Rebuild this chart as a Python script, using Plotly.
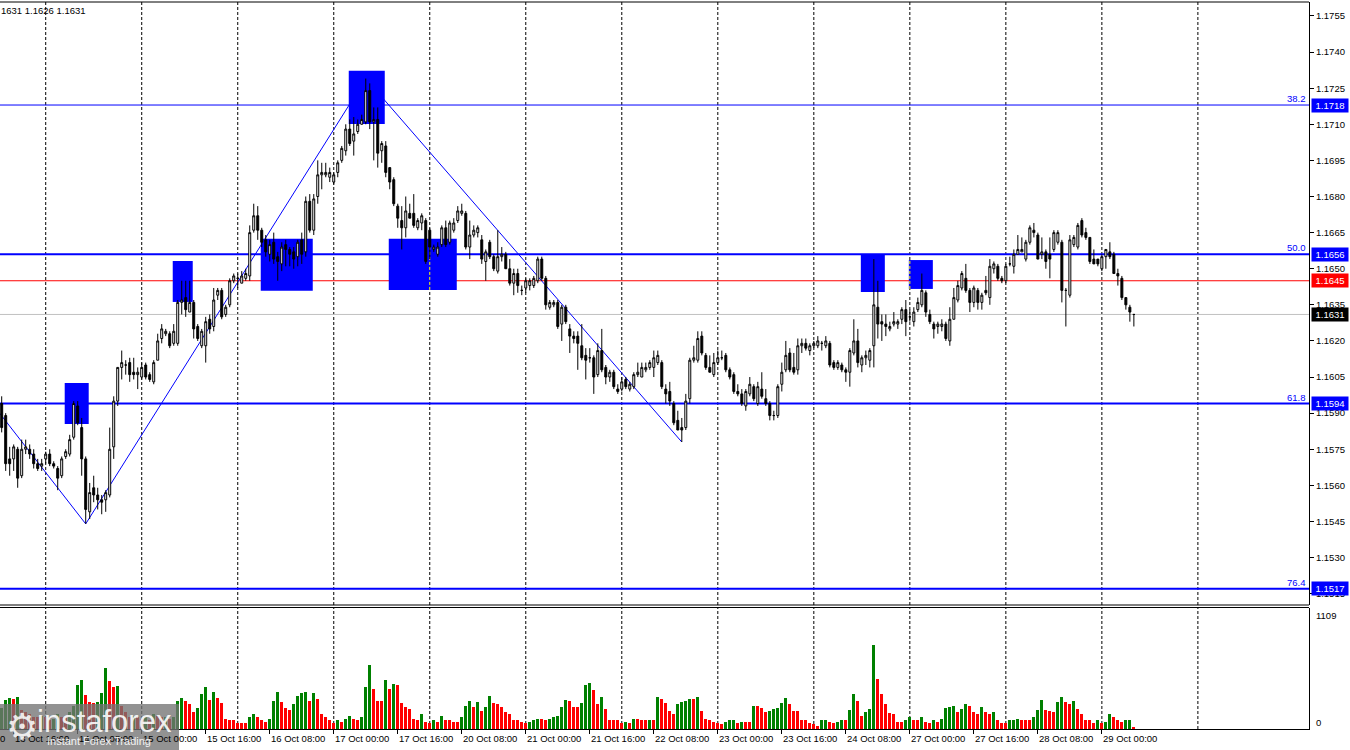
import plotly.graph_objects as go

# ---------------- data ----------------
trading_days = ["13 Oct", "14 Oct", "15 Oct", "16 Oct", "17 Oct", "20 Oct", "21 Oct",
                "22 Oct", "23 Oct", "24 Oct", "27 Oct", "28 Oct", "29 Oct", "30 Oct"]
first_bar = 13  # hours since 13 Oct 00:00 (trading hours) of first visible H1 candle

opens = [
    1.1594, 1.1589, 1.1571, 1.1571, 1.1575, 1.1564, 1.1575, 1.1575, 1.1573, 1.1569,
    1.1568, 1.1571, 1.1573, 1.1569, 1.1567, 1.1564, 1.1572, 1.1573, 1.1580, 1.1593,
    1.1584, 1.1571, 1.1549, 1.1559, 1.1556, 1.1554, 1.1554, 1.1556, 1.1576, 1.1595,
    1.1609, 1.1610, 1.1611, 1.1607, 1.1606, 1.1605, 1.1610, 1.1606, 1.1603, 1.1612,
    1.1621, 1.1623, 1.1623, 1.1619, 1.1619, 1.1636, 1.1638, 1.1632, 1.1636, 1.1626,
    1.1618, 1.1618, 1.1629, 1.1626, 1.1639, 1.1641, 1.1631, 1.1635, 1.1645, 1.1646,
    1.1644, 1.1646, 1.1647, 1.1666, 1.1672, 1.1666, 1.1662, 1.1656, 1.1661, 1.1655,
    1.1652, 1.1660, 1.1658, 1.1657, 1.1655, 1.1662, 1.1657, 1.1678, 1.1666, 1.1680,
    1.1689, 1.1689, 1.1688, 1.1686, 1.1690, 1.1695, 1.1699, 1.1708, 1.1703, 1.1707,
    1.1710, 1.1711, 1.1724, 1.1711, 1.1712, 1.1699, 1.1701, 1.1692, 1.1687, 1.1676,
    1.1670, 1.1667, 1.1673, 1.1673, 1.1667, 1.1669, 1.1670, 1.1666, 1.1658, 1.1656,
    1.1660, 1.1667, 1.1661, 1.1666, 1.1670, 1.1673, 1.1673, 1.1659, 1.1664, 1.1665,
    1.1662, 1.1653, 1.1661, 1.1655, 1.1649, 1.1655, 1.1656, 1.1650, 1.1644, 1.1648,
    1.1641, 1.1642, 1.1643, 1.1643, 1.1645, 1.1654, 1.1646, 1.1634, 1.1635, 1.1636,
    1.1627, 1.1634, 1.1625, 1.1622, 1.1622, 1.1618, 1.1614, 1.1613, 1.1613, 1.1606,
    1.1616, 1.1609, 1.1605, 1.1607, 1.1600, 1.1600, 1.1604, 1.1600, 1.1601, 1.1606,
    1.1605, 1.1608, 1.1609, 1.1609, 1.1611, 1.1611, 1.1600, 1.1599, 1.1594, 1.1587,
    1.1584, 1.1584, 1.1596, 1.1612, 1.1612, 1.1622, 1.1614, 1.1609, 1.1606, 1.1611,
    1.1613, 1.1614, 1.1608, 1.1606, 1.1599, 1.1598, 1.1593, 1.1598, 1.1601, 1.1594,
    1.1600, 1.1596, 1.1594, 1.1589, 1.1589, 1.1602, 1.1608, 1.1615, 1.1609, 1.1608,
    1.1618, 1.1619, 1.1616, 1.1618, 1.1618, 1.1619, 1.1618, 1.1619, 1.1611, 1.1609,
    1.1610, 1.1608, 1.1607, 1.1615, 1.1620, 1.1610, 1.1613, 1.1612, 1.1618, 1.1634,
    1.1628, 1.1627, 1.1625, 1.1627, 1.1627, 1.1629, 1.1633, 1.1630, 1.1628, 1.1633,
    1.1635, 1.1640, 1.1631, 1.1627, 1.1626, 1.1626, 1.1627, 1.1620, 1.1629, 1.1637,
    1.1642, 1.1646, 1.1641, 1.1636, 1.1641, 1.1636, 1.1641, 1.1638, 1.1650, 1.1651,
    1.1646, 1.1645, 1.1652, 1.1651, 1.1656, 1.1657, 1.1654, 1.1661, 1.1666, 1.1664,
    1.1656, 1.1657, 1.1656, 1.1658, 1.1661, 1.1661, 1.1641, 1.1639, 1.1660, 1.1659,
    1.1670, 1.1665, 1.1663, 1.1654, 1.1654, 1.1650, 1.1655, 1.1657, 1.1656, 1.1648,
    1.1646, 1.1638, 1.1634, 1.1631,
]
highs = [
    1.1597, 1.1590, 1.1576, 1.1577, 1.1576, 1.1579, 1.1579, 1.1577, 1.1575, 1.1571,
    1.1571, 1.1574, 1.1575, 1.1570, 1.1568, 1.1572, 1.1575, 1.1581, 1.1595, 1.1595,
    1.1588, 1.1572, 1.1561, 1.1564, 1.1559, 1.1556, 1.1558, 1.1584, 1.1597, 1.1609,
    1.1616, 1.1612, 1.1613, 1.1613, 1.1609, 1.1611, 1.1611, 1.1607, 1.1612, 1.1623,
    1.1627, 1.1625, 1.1624, 1.1627, 1.1637, 1.1645, 1.1645, 1.1645, 1.1637, 1.1627,
    1.1625, 1.1630, 1.1631, 1.1642, 1.1642, 1.1642, 1.1635, 1.1646, 1.1648, 1.1648,
    1.1649, 1.1650, 1.1668, 1.1677, 1.1676, 1.1667, 1.1664, 1.1662, 1.1665, 1.1657,
    1.1661, 1.1662, 1.1659, 1.1659, 1.1662, 1.1665, 1.1680, 1.1681, 1.1681, 1.1695,
    1.1694, 1.1694, 1.1692, 1.1690, 1.1695, 1.1701, 1.1710, 1.1712, 1.1713, 1.1712,
    1.1714, 1.1729, 1.1727, 1.1717, 1.1717, 1.1703, 1.1703, 1.1692, 1.1688, 1.1677,
    1.1676, 1.1680, 1.1677, 1.1681, 1.1671, 1.1673, 1.1671, 1.1667, 1.1660, 1.1661,
    1.1668, 1.1670, 1.1670, 1.1671, 1.1676, 1.1677, 1.1674, 1.1670, 1.1668, 1.1668,
    1.1664, 1.1658, 1.1662, 1.1656, 1.1666, 1.1659, 1.1657, 1.1654, 1.1650, 1.1650,
    1.1643, 1.1646, 1.1646, 1.1647, 1.1655, 1.1655, 1.1647, 1.1637, 1.1637, 1.1637,
    1.1635, 1.1635, 1.1627, 1.1624, 1.1624, 1.1627, 1.1617, 1.1617, 1.1614, 1.1619,
    1.1625, 1.1610, 1.1608, 1.1608, 1.1602, 1.1605, 1.1605, 1.1603, 1.1607, 1.1611,
    1.1611, 1.1611, 1.1612, 1.1616, 1.1616, 1.1612, 1.1602, 1.1603, 1.1595, 1.1591,
    1.1588, 1.1598, 1.1613, 1.1618, 1.1624, 1.1624, 1.1615, 1.1614, 1.1615, 1.1616,
    1.1616, 1.1615, 1.1609, 1.1607, 1.1602, 1.1600, 1.1600, 1.1605, 1.1602, 1.1603,
    1.1607, 1.1600, 1.1595, 1.1591, 1.1602, 1.1611, 1.1620, 1.1617, 1.1615, 1.1621,
    1.1621, 1.1621, 1.1619, 1.1620, 1.1622, 1.1620, 1.1622, 1.1620, 1.1612, 1.1612,
    1.1611, 1.1609, 1.1617, 1.1629, 1.1625, 1.1614, 1.1616, 1.1617, 1.1654, 1.1645,
    1.1631, 1.1631, 1.1628, 1.1632, 1.1629, 1.1634, 1.1637, 1.1633, 1.1634, 1.1638,
    1.1648, 1.1641, 1.1633, 1.1628, 1.1628, 1.1629, 1.1628, 1.1634, 1.1642, 1.1645,
    1.1649, 1.1652, 1.1642, 1.1643, 1.1642, 1.1640, 1.1647, 1.1654, 1.1653, 1.1652,
    1.1647, 1.1652, 1.1655, 1.1658, 1.1664, 1.1663, 1.1662, 1.1668, 1.1669, 1.1665,
    1.1663, 1.1658, 1.1663, 1.1666, 1.1666, 1.1662, 1.1642, 1.1664, 1.1664, 1.1669,
    1.1671, 1.1667, 1.1663, 1.1658, 1.1654, 1.1656, 1.1658, 1.1661, 1.1657, 1.1650,
    1.1647, 1.1638, 1.1635, 1.1631,
]
lows = [
    1.1582, 1.1566, 1.1564, 1.1566, 1.1559, 1.1563, 1.1573, 1.1571, 1.1567, 1.1566,
    1.1566, 1.1569, 1.1568, 1.1567, 1.1558, 1.1563, 1.1571, 1.1572, 1.1579, 1.1585,
    1.1564, 1.1544, 1.1546, 1.1553, 1.1550, 1.1548, 1.1549, 1.1555, 1.1571, 1.1593,
    1.1604, 1.1606, 1.1603, 1.1604, 1.1600, 1.1604, 1.1604, 1.1603, 1.1602, 1.1612,
    1.1619, 1.1622, 1.1617, 1.1618, 1.1618, 1.1631, 1.1630, 1.1632, 1.1621, 1.1620,
    1.1617, 1.1611, 1.1623, 1.1624, 1.1637, 1.1629, 1.1630, 1.1634, 1.1644, 1.1642,
    1.1644, 1.1645, 1.1645, 1.1665, 1.1662, 1.1659, 1.1655, 1.1653, 1.1652, 1.1645,
    1.1649, 1.1651, 1.1651, 1.1650, 1.1651, 1.1652, 1.1655, 1.1665, 1.1664, 1.1677,
    1.1683, 1.1688, 1.1686, 1.1685, 1.1688, 1.1694, 1.1697, 1.1701, 1.1697, 1.1706,
    1.1710, 1.1710, 1.1708, 1.1695, 1.1692, 1.1694, 1.1688, 1.1683, 1.1676, 1.1667,
    1.1658, 1.1663, 1.1671, 1.1667, 1.1666, 1.1666, 1.1652, 1.1654, 1.1657, 1.1655,
    1.1659, 1.1659, 1.1660, 1.1665, 1.1669, 1.1672, 1.1658, 1.1654, 1.1663, 1.1663,
    1.1652, 1.1645, 1.1654, 1.1649, 1.1648, 1.1653, 1.1650, 1.1643, 1.1639, 1.1640,
    1.1639, 1.1640, 1.1641, 1.1642, 1.1644, 1.1645, 1.1633, 1.1633, 1.1634, 1.1625,
    1.1620, 1.1627, 1.1615, 1.1619, 1.1608, 1.1612, 1.1604, 1.1611, 1.1598, 1.1605,
    1.1607, 1.1602, 1.1603, 1.1600, 1.1598, 1.1599, 1.1600, 1.1599, 1.1600, 1.1605,
    1.1605, 1.1607, 1.1608, 1.1605, 1.1610, 1.1600, 1.1594, 1.1593, 1.1585, 1.1583,
    1.1578, 1.1583, 1.1594, 1.1611, 1.1611, 1.1614, 1.1608, 1.1607, 1.1605, 1.1610,
    1.1612, 1.1607, 1.1604, 1.1598, 1.1597, 1.1593, 1.1591, 1.1597, 1.1595, 1.1593,
    1.1596, 1.1593, 1.1587, 1.1587, 1.1588, 1.1599, 1.1607, 1.1607, 1.1606, 1.1606,
    1.1615, 1.1616, 1.1614, 1.1617, 1.1617, 1.1616, 1.1617, 1.1609, 1.1608, 1.1608,
    1.1607, 1.1603, 1.1601, 1.1614, 1.1609, 1.1607, 1.1610, 1.1609, 1.1609, 1.1621,
    1.1620, 1.1622, 1.1624, 1.1626, 1.1625, 1.1627, 1.1622, 1.1628, 1.1626, 1.1632,
    1.1634, 1.1630, 1.1627, 1.1621, 1.1623, 1.1624, 1.1620, 1.1618, 1.1629, 1.1636,
    1.1641, 1.1640, 1.1632, 1.1634, 1.1633, 1.1633, 1.1639, 1.1635, 1.1648, 1.1645,
    1.1644, 1.1644, 1.1651, 1.1648, 1.1656, 1.1657, 1.1653, 1.1660, 1.1663, 1.1654,
    1.1654, 1.1650, 1.1646, 1.1657, 1.1660, 1.1636, 1.1626, 1.1638, 1.1659, 1.1658,
    1.1663, 1.1662, 1.1652, 1.1652, 1.1651, 1.1649, 1.1650, 1.1654, 1.1648, 1.1643,
    1.1637, 1.1633, 1.1628, 1.1626,
]
closes = [
    1.1584, 1.1569, 1.1569, 1.1576, 1.1563, 1.1575, 1.1576, 1.1573, 1.1569, 1.1567,
    1.1569, 1.1573, 1.1569, 1.1568, 1.1563, 1.1571, 1.1574, 1.1579, 1.1594, 1.1586,
    1.1571, 1.1550, 1.1557, 1.1556, 1.1554, 1.1553, 1.1557, 1.1575, 1.1595, 1.1609,
    1.1611, 1.1610, 1.1606, 1.1606, 1.1607, 1.1609, 1.1605, 1.1604, 1.1611, 1.1620,
    1.1625, 1.1624, 1.1618, 1.1624, 1.1636, 1.1637, 1.1633, 1.1636, 1.1625, 1.1621,
    1.1624, 1.1628, 1.1625, 1.1637, 1.1641, 1.1630, 1.1634, 1.1645, 1.1647, 1.1646,
    1.1647, 1.1648, 1.1665, 1.1672, 1.1666, 1.1661, 1.1657, 1.1660, 1.1654, 1.1653,
    1.1659, 1.1658, 1.1656, 1.1654, 1.1661, 1.1656, 1.1678, 1.1666, 1.1679, 1.1689,
    1.1690, 1.1690, 1.1690, 1.1689, 1.1694, 1.1700, 1.1708, 1.1702, 1.1706, 1.1710,
    1.1712, 1.1724, 1.1711, 1.1712, 1.1698, 1.1702, 1.1690, 1.1686, 1.1677, 1.1671,
    1.1667, 1.1674, 1.1671, 1.1668, 1.1670, 1.1672, 1.1653, 1.1659, 1.1659, 1.1659,
    1.1667, 1.1660, 1.1669, 1.1669, 1.1674, 1.1674, 1.1659, 1.1664, 1.1666, 1.1667,
    1.1654, 1.1657, 1.1655, 1.1650, 1.1655, 1.1656, 1.1650, 1.1644, 1.1648, 1.1643,
    1.1641, 1.1645, 1.1645, 1.1646, 1.1654, 1.1646, 1.1635, 1.1636, 1.1636, 1.1626,
    1.1634, 1.1628, 1.1622, 1.1621, 1.1619, 1.1613, 1.1612, 1.1613, 1.1605, 1.1616,
    1.1608, 1.1605, 1.1607, 1.1601, 1.1599, 1.1603, 1.1601, 1.1602, 1.1606, 1.1607,
    1.1609, 1.1609, 1.1611, 1.1613, 1.1614, 1.1601, 1.1598, 1.1595, 1.1586, 1.1583,
    1.1583, 1.1595, 1.1612, 1.1613, 1.1621, 1.1615, 1.1609, 1.1607, 1.1611, 1.1613,
    1.1613, 1.1608, 1.1605, 1.1599, 1.1598, 1.1594, 1.1599, 1.1602, 1.1596, 1.1601,
    1.1597, 1.1594, 1.1589, 1.1589, 1.1601, 1.1607, 1.1614, 1.1608, 1.1607, 1.1618,
    1.1619, 1.1617, 1.1618, 1.1619, 1.1620, 1.1619, 1.1620, 1.1610, 1.1609, 1.1611,
    1.1608, 1.1607, 1.1616, 1.1620, 1.1611, 1.1613, 1.1614, 1.1616, 1.1635, 1.1627,
    1.1627, 1.1626, 1.1626, 1.1628, 1.1628, 1.1633, 1.1628, 1.1630, 1.1632, 1.1636,
    1.1641, 1.1632, 1.1628, 1.1625, 1.1627, 1.1627, 1.1621, 1.1629, 1.1638, 1.1643,
    1.1648, 1.1641, 1.1636, 1.1642, 1.1636, 1.1639, 1.1640, 1.1651, 1.1652, 1.1646,
    1.1645, 1.1651, 1.1652, 1.1656, 1.1658, 1.1658, 1.1661, 1.1667, 1.1665, 1.1654,
    1.1657, 1.1653, 1.1654, 1.1665, 1.1665, 1.1641, 1.1641, 1.1662, 1.1663, 1.1668,
    1.1664, 1.1663, 1.1653, 1.1652, 1.1652, 1.1655, 1.1658, 1.1655, 1.1648, 1.1647,
    1.1638, 1.1635, 1.1632, 1.1631,
]
volumes = [
    205, 279, 298, 288, 307,
    186, 167, 140, 121, 112, 130, 112, 93, 102, 149, 121, 112, 167, 223,
    419, 465, 326, 260, 251, 260, 344, 577, 456, 400, 409, 223,
    167, 112, 130, 112, 102, 112, 93, 149, 130, 112, 121, 102, 112,
    270, 298, 270, 242, 167, 205, 335, 400, 279, 353, 298, 251,
    102, 84, 84, 65, 65, 65, 121, 140, 112, 93, 74, 102,
    270, 353, 260, 205, 186, 233, 316, 344, 353, 270, 344, 288,
    149, 121, 84, 65, 93, 74, 102, 130, 102, 93, 112,
    400, 605, 381, 270, 270, 465, 381, 428, 419, 251, 214, 195,
    102, 84, 149, 74, 65, 84, 74, 130, 93, 93, 74, 74, 112,
    223, 270, 214, 260, 177, 214, 316, 251, 242, 214, 167, 140, 93, 84,
    74, 65, 74, 93, 102, 102, 93, 102, 112, 130,
    214, 279, 270, 214, 214, 251, 419, 437, 372, 242, 307, 195,
    93, 93, 93, 65, 74, 56, 102, 102, 93, 84, 93, 93,
    307, 288, 251, 177, 149, 242, 260, 270, 288, 288, 307,
    177, 102, 93, 74, 56, 47, 74, 84, 93, 65, 74, 74, 74,
    223, 223, 205, 167, 177, 195, 205, 251, 298, 242, 177, 177,
    84, 84, 56, 47, 37, 84, 93, 74, 65, 74, 84, 84,
    186, 335, 270, 130, 167, 195, 791, 474, 335, 242, 158, 149,
    74, 74, 93, 121, 93, 93, 112, 74, 65, 84, 74, 102,
    205, 214, 223, 167, 195, 233, 223, 167, 140, 214, 167, 140, 167,
    84, 65, 65, 84, 93, 102, 93, 84, 84, 112, 186,
    279, 186, 177, 167, 260, 307, 260, 242, 270, 195, 140, 84,
    84, 56, 84, 65, 74, 149, 112, 84, 74, 84, 93, 23,
]

fib_names = ["38.2", "50.0", "61.8", "76.4"]
fib_prices = [1.1718, 1.1656, 1.1594, 1.1517]
ask_price = 1.1645
bid_price = 1.1631
price_ticks = [1.1515, 1.1530, 1.1545, 1.1560, 1.1575, 1.1590, 1.1605, 1.1620, 1.1635,
               1.1650, 1.1665, 1.1680, 1.1695, 1.1710, 1.1725, 1.1740, 1.1755]
volume_max_label = 1109

zigzag_bars = [12, 34, 104, 183]
zigzag_prices = [1.1591, 1.1544, 1.1729, 1.1578]

zone_start = [28.75, 55.75, 77.75, 99.75, 109.75, 227.75, 239.75]
zone_end = [34.75, 60.75, 90.75, 108.75, 126.75, 233.75, 245.75]
zone_top = [1.16025, 1.16532, 1.16624, 1.17322, 1.16624, 1.16557, 1.16536]
zone_bottom = [1.15855, 1.16362, 1.16408, 1.17101, 1.16412, 1.16403, 1.16416]

header_text = "1631 1.1626 1.1631"

# ---------------- layout geometry ----------------
W, H = 1350, 750
PLOT_W = 1309
TOP, BOTTOM = 2, 729
PH = BOTTOM - TOP
BAR_PX = 4.0006
X_MIN = 12.575
X_MAX = X_MIN + PLOT_W / BAR_PX
Y_MIN, Y_MAX = 1.15103, 1.17608
VOL_RANGE_TOP = 1132


def py(pix):
    return (BOTTOM - pix) / PH


def pxp(pix):
    return pix / PLOT_W


def kx(k):
    return (k - X_MIN) / (X_MAX - X_MIN)


bars = list(range(first_bar, first_bar + len(closes)))
vol_colors = []
for j, v in enumerate(volumes):
    vol_colors.append("#008000" if (j == 0 or v > volumes[j - 1]) else "#FF0000")

last_bar = bars[-1]
label_bars = [k for k in range(0, last_bar + 1, 16)]
day_bars = [24 * d for d in range(1, len(trading_days))]

FONT = "Liberation Sans, Arial, sans-serif"
FS = 9.5

fig = go.Figure()
fig.add_trace(go.Candlestick(
    x=bars, open=opens, high=highs, low=lows, close=closes,
    increasing=dict(line=dict(color="black", width=1), fillcolor="white"),
    decreasing=dict(line=dict(color="black", width=1), fillcolor="black"),
    whiskerwidth=0, xaxis="x", yaxis="y", hoverinfo="skip", showlegend=False,
))
fig.add_trace(go.Bar(
    x=bars, y=volumes, marker=dict(color=vol_colors, line=dict(width=0)),
    width=0.72, xaxis="x2", yaxis="y2", hoverinfo="skip", showlegend=False,
))

shapes = []
# dashed day separators
for k in day_bars:
    for xr, yr in (("x", "y domain"), ("x2", "y2 domain")):
        shapes.append(dict(type="line", xref=xr, yref=yr, x0=k, x1=k, y0=0, y1=1,
                           line=dict(color="black", width=1, dash="3px,2px"), layer="below"))
# bid / ask lines
shapes.append(dict(type="line", xref="x domain", yref="y", x0=0, x1=1, y0=bid_price, y1=bid_price,
                   line=dict(color="#C0C0C0", width=1), layer="below"))
shapes.append(dict(type="line", xref="x domain", yref="y", x0=0, x1=1, y0=ask_price, y1=ask_price,
                   line=dict(color="#FF0000", width=1), layer="below"))
# fibonacci levels
for name, p in zip(fib_names, fib_prices):
    shapes.append(dict(type="line", xref="x domain", yref="y", x0=0, x1=1, y0=p, y1=p,
                       line=dict(color="#0000FF", width=1 if name == "38.2" else 2), layer="below"))
# zigzag
path = "M " + " L ".join(f"{k},{p}" for k, p in zip(zigzag_bars, zigzag_prices))
shapes.append(dict(type="path", xref="x", yref="y", path=path,
                   line=dict(color="#0000FF", width=1), layer="below"))
# zones
for x0, x1, t, b in zip(zone_start, zone_end, zone_top, zone_bottom):
    shapes.append(dict(type="rect", xref="x", yref="y", x0=x0, x1=x1, y0=b, y1=t,
                       fillcolor="#0000FF", line=dict(width=0), layer="below"))
    for k in day_bars:
        if x0 < k < x1:
            shapes.append(dict(type="line", xref="x", yref="y", x0=k, x1=k, y0=b, y1=t,
                               line=dict(color="#FFFF00", width=1, dash="3px,2px"), layer="below"))
# panel borders
shapes.append(dict(type="line", xref="paper", yref="paper", x0=0, x1=1, y0=1, y1=1,
                   line=dict(color="black", width=1)))
shapes.append(dict(type="line", xref="paper", yref="paper", x0=0, x1=1, y0=py(605), y1=py(605),
                   line=dict(color="black", width=1)))
shapes.append(dict(type="line", xref="paper", yref="paper", x0=0, x1=1, y0=py(607.5), y1=py(607.5),
                   line=dict(color="black", width=1)))
# watermark box
shapes.append(dict(type="rect", xref="paper", yref="paper", x0=0, x1=pxp(179), y0=py(750), y1=py(704),
                   fillcolor="rgba(115,115,115,0.78)", line=dict(width=0)))

ann = []
# time labels
for k in label_bars:
    txt = f"{trading_days[k // 24]} {k % 24:02d}:00"
    ann.append(dict(x=kx(k), xref="paper", y=py(738.5), yref="paper", text=txt, showarrow=False,
                    xanchor="left", yanchor="middle", xshift=-1,
                    font=dict(family=FONT, size=FS, color="black")))
# fib labels and price boxes
for name, p in zip(fib_names, fib_prices):
    ann.append(dict(x=pxp(1307.5), xref="paper", y=p, yref="y", text=name, showarrow=False,
                    xanchor="right", yanchor="bottom", yshift=-1,
                    font=dict(family=FONT, size=FS, color="#0000FF")))
    ann.append(dict(x=pxp(1311), xref="paper", y=p, yref="y", text=f"{p:.4f}", showarrow=False,
                    xanchor="left", yanchor="middle", bgcolor="#0000FF", width=34, height=11,
                    borderpad=1, font=dict(family=FONT, size=FS, color="white")))
ann.append(dict(x=pxp(1311), xref="paper", y=ask_price, yref="y", text=f"{ask_price:.4f}",
                showarrow=False, xanchor="left", yanchor="middle", bgcolor="#FF0000", width=34,
                height=11, borderpad=1, font=dict(family=FONT, size=FS, color="white")))
ann.append(dict(x=pxp(1311), xref="paper", y=bid_price, yref="y", text=f"{bid_price:.4f}",
                showarrow=False, xanchor="left", yanchor="middle", bgcolor="#000000", width=34,
                height=11, borderpad=1, font=dict(family=FONT, size=FS, color="white")))
# volume scale labels
ann.append(dict(x=pxp(1314), xref="paper", y=py(615), yref="paper", text=str(volume_max_label),
                showarrow=False, xanchor="left", yanchor="middle",
                font=dict(family=FONT, size=FS, color="black")))
ann.append(dict(x=pxp(1314), xref="paper", y=py(722), yref="paper", text="0",
                showarrow=False, xanchor="left", yanchor="middle",
                font=dict(family=FONT, size=FS, color="black")))
# header
ann.append(dict(x=0, xref="paper", y=py(10), yref="paper", text=header_text, showarrow=False,
                xanchor="left", yanchor="middle", xshift=-1,
                font=dict(family=FONT, size=FS, color="black")))
# watermark texts
ann.append(dict(x=pxp(22), xref="paper", y=py(726), yref="paper", text="⚙", showarrow=False,
                xanchor="center", yanchor="middle",
                font=dict(family="DejaVu Sans", size=36, color="rgba(255,255,255,0.85)")))
ann.append(dict(x=pxp(104), xref="paper", y=py(721), yref="paper", text="instaforex", showarrow=False,
                xanchor="center", yanchor="middle",
                font=dict(family=FONT, size=31, color="rgba(255,255,255,0.9)")))
ann.append(dict(x=pxp(99), xref="paper", y=py(741), yref="paper", text="Instant Forex Trading",
                showarrow=False, xanchor="center", yanchor="middle",
                font=dict(family=FONT, size=11, color="rgba(255,255,255,0.9)")))

fig.update_layout(
    width=W, height=H,
    margin=dict(l=0, r=W - PLOT_W, t=TOP, b=H - BOTTOM, pad=0),
    paper_bgcolor="white", plot_bgcolor="white",
    showlegend=False, hovermode=False, bargap=0,
    shapes=shapes, annotations=ann,
    font=dict(family=FONT, size=FS, color="black"),
    xaxis=dict(domain=[0, 1], range=[X_MIN, X_MAX], anchor="y", showticklabels=False,
               showgrid=False, zeroline=False, ticks="", showline=False,
               rangeslider=dict(visible=False)),
    xaxis2=dict(domain=[0, 1], range=[X_MIN, X_MAX], anchor="y2", matches="x",
                showticklabels=False, showgrid=False, zeroline=False,
                ticks="outside", ticklen=4, tickcolor="black", tickvals=label_bars,
                showline=True, linecolor="black", linewidth=1),
    yaxis=dict(domain=[py(605), 1], range=[Y_MIN, Y_MAX], anchor="x", side="right",
               ticks="outside", ticklen=4, tickcolor="black", tickvals=price_ticks,
               tickformat=".4f", showline=True, linecolor="black", linewidth=1,
               showgrid=False, zeroline=False,
               tickfont=dict(family=FONT, size=FS, color="black")),
    yaxis2=dict(domain=[0, py(607.5)], range=[0, VOL_RANGE_TOP], anchor="x2", side="right",
                showticklabels=False, ticks="", showline=True, linecolor="black", linewidth=1,
                showgrid=False, zeroline=False),
)

fig.write_html("out.html", config={"displayModeBar": False},
               post_script="document.body.style.margin='0px';")
